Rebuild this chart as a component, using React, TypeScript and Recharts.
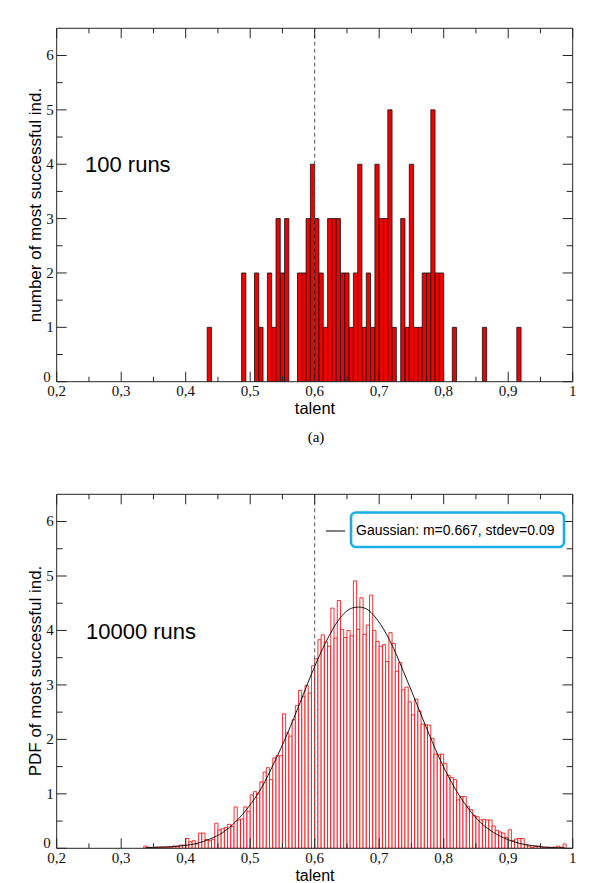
import React from 'react';
import { ComposedChart, Bar, Line, XAxis, YAxis, ReferenceLine } from 'recharts';

// axis ticks: x every 0.05 (labelled every 0.1), y every 0.5 (labelled on integers)
const X_TICKS = [0.2, 0.25, 0.3, 0.35, 0.4, 0.45, 0.5, 0.55, 0.6, 0.65, 0.7, 0.75, 0.8, 0.85, 0.9, 0.95, 1];
const Y_TICKS = [0, 0.5, 1, 1.5, 2, 2.5, 3, 3.5, 4, 4.5, 5, 5.5, 6];

// (a) 100 runs: counts per talent bin, bin width 1/150, first bin = 65/150
const RUNS_BIN_WIDTH = 1 / 150;
const RUNS_FIRST_BIN = 65;
const RUNS_COUNTS = [
  1, 0, 0, 0, 0, 0, 0, 0, 2, 0, 0, 2, 1, 0, 2, 1, 3, 2, 3, 0, 0,
  2, 2, 3, 4, 3, 2, 1, 3, 3, 3, 2, 2, 1, 2, 4, 1, 2, 1, 4, 3, 3, 5, 1, 0, 3, 1, 4, 1, 1, 2, 2, 5, 2, 2,
  0, 0, 1, 0, 0, 0, 0, 0, 0, 1, 0, 0, 0, 0, 0, 0, 0, 1,
];

// (b) 10000 runs: PDF per talent bin, bin width 0.005, first bin starts at 0.335
const PDF_BIN_WIDTH = 0.005;
const PDF_FIRST_EDGE = 0.335;
const PDF_VALUES = [
  0.04, 0.02, 0.0, 0.02, 0.02, 0.02, 0.02, 0.02, 0.02, 0.04,
  0.04, 0.06, 0.06, 0.18, 0.12, 0.14, 0.08, 0.28, 0.28, 0.16,
  0.14, 0.16, 0.46, 0.34, 0.36, 0.38, 0.44, 0.4, 0.76, 0.52,
  0.54, 0.76, 0.68, 0.98, 1.04, 1.0, 1.22, 1.4, 1.48, 1.26,
  1.66, 1.7, 1.7, 2.47, 2.12, 2.06, 2.36, 2.62, 2.9, 2.79,
  2.99, 2.85, 3.35, 3.48, 3.83, 3.92, 3.79, 3.71, 4.41, 3.86,
  4.55, 4.02, 3.87, 4.0, 3.9, 4.91, 4.02, 4.6, 3.93, 4.1,
  4.65, 4.0, 3.8, 3.71, 3.74, 3.43, 3.96, 3.76, 3.25, 3.41,
  2.91, 2.96, 2.69, 2.45, 2.74, 2.52, 2.28, 2.27, 2.26, 2.02,
  1.73, 1.72, 1.73, 1.56, 1.34, 1.3, 1.26, 0.89, 0.95, 0.95,
  0.77, 0.71, 0.6, 0.58, 0.52, 0.53, 0.52, 0.52, 0.41, 0.33,
  0.3, 0.28, 0.2, 0.34, 0.14, 0.17, 0.18, 0.18, 0.06, 0.04,
  0.02, 0.04, 0.04, 0.02, 0.02, 0.02, 0.02, 0.02, 0.04, 0.02,
  0.08,
];

// black gaussian curve, read at bin centres
const GAUSS_X = [
  0.3375, 0.3575, 0.3775, 0.3975, 0.4175, 0.4375, 0.4575, 0.4775, 0.4975, 0.5175, 0.5375,
  0.5575, 0.5775, 0.5975, 0.6175, 0.6375, 0.6575, 0.6675, 0.6775, 0.6975, 0.7175, 0.7375, 0.7575,
  0.7775, 0.7975, 0.8175, 0.8375, 0.8575, 0.8775, 0.8975, 0.9175, 0.9375, 0.9575, 0.9775, 0.9875,
];
const GAUSS_Y = [
  0.01, 0.02, 0.03, 0.05, 0.09, 0.17, 0.29, 0.49, 0.76, 1.11, 1.58,
  2.1, 2.68, 3.27, 3.79, 4.2, 4.41, 4.43, 4.41, 4.19, 3.79, 3.25, 2.67,
  2.09, 1.55, 1.1, 0.74, 0.47, 0.29, 0.17, 0.09, 0.05, 0.02, 0.01, 0.01,
];

const runsData = RUNS_COUNTS.map((v, i) => ({ x: (RUNS_FIRST_BIN + i + 0.5) * RUNS_BIN_WIDTH, v }));

const pdfData: { x: number; v: number; g?: number }[] = PDF_VALUES.map((v, i) => ({
  x: PDF_FIRST_EDGE + (i + 0.5) * PDF_BIN_WIDTH,
  v,
}));
GAUSS_X.forEach((gx, j) => {
  const i = Math.round((gx - PDF_FIRST_EDGE) / PDF_BIN_WIDTH - 0.5);
  if (pdfData[i]) pdfData[i].g = GAUSS_Y[j];
});

const AXIS = '#262626';
const SERIF = '"Liberation Serif", "Times New Roman", serif';
const SANS = '"Liberation Sans", Arial, Helvetica, sans-serif';

const isTenth = (v: number) => Math.abs(v * 10 - Math.round(v * 10)) < 1e-6;
const fmtX = (v: number) => String(v).replace('.', ',');

// ticks point inwards on all four sides, like xmgrace
const BottomTick = (props: any) => {
  const { x, y, payload } = props;
  const major = isTenth(payload.value);
  return (
    <g>
      <line x1={x} x2={x} y1={y} y2={y - (major ? 10 : 5)} stroke={AXIS} strokeWidth={1} />
      {major && (
        <text x={x} y={y + 14.5} textAnchor="middle" fontFamily={SERIF} fontSize={15} fill="#111">
          {fmtX(payload.value)}
        </text>
      )}
    </g>
  );
};

const TopTick = (props: any) => {
  const { x, y, payload } = props;
  const major = isTenth(payload.value);
  return <line x1={x} x2={x} y1={y} y2={y + (major ? 10 : 5)} stroke={AXIS} strokeWidth={1} />;
};

const LeftTick = (props: any) => {
  const { x, y, payload } = props;
  const major = Number.isInteger(payload.value);
  // the "0" sits just above-left of the "0,2" label in the corner
  const zero = payload.value === 0;
  return (
    <g>
      <line x1={x} x2={x + (major ? 10 : 6)} y1={y} y2={y} stroke={AXIS} strokeWidth={1} />
      {major && (
        <text x={zero ? x - 6 : x - 3} y={zero ? y - 5 : y} dy="0.33em" textAnchor="end" fontFamily={SERIF}
          fontSize={15} fill="#111">
          {payload.value}
        </text>
      )}
    </g>
  );
};

const RightTick = (props: any) => {
  const { x, y, payload } = props;
  const major = Number.isInteger(payload.value);
  return <line x1={x} x2={x - (major ? 10 : 6)} y1={y} y2={y} stroke={AXIS} strokeWidth={1} />;
};

// axes are 1px thick so recharts still draws them; their lines sit on the plot edges
const renderAxes = () => [
  <XAxis key="xb" xAxisId={0} type="number" dataKey="x" domain={[0.2, 1]} ticks={X_TICKS} interval={0}
    allowDataOverflow height={1} tickSize={0} tickMargin={0} tickLine={false}
    axisLine={{ stroke: AXIS, strokeWidth: 1 }} tick={<BottomTick />} />,
  <XAxis key="xt" xAxisId="top" orientation="top" type="number" dataKey="x" domain={[0.2, 1]} ticks={X_TICKS}
    interval={0} allowDataOverflow height={1} tickSize={0} tickMargin={0} tickLine={false}
    axisLine={{ stroke: AXIS, strokeWidth: 1 }} tick={<TopTick />} />,
  <YAxis key="yl" yAxisId={0} type="number" domain={[0, 6.5]} ticks={Y_TICKS} interval={0}
    allowDataOverflow width={1} tickSize={0} tickMargin={0} tickLine={false}
    axisLine={{ stroke: AXIS, strokeWidth: 1 }} tick={<LeftTick />} />,
  <YAxis key="yr" yAxisId="right" orientation="right" type="number" domain={[0, 6.5]} ticks={Y_TICKS}
    interval={0} allowDataOverflow width={1} tickSize={0} tickMargin={0} tickLine={false}
    axisLine={{ stroke: AXIS, strokeWidth: 1 }} tick={<RightTick />} />,
];

const CHART_W = 593;
const CHART_H = 420;

export default function App() {
  return (
    <div style={{ position: 'absolute', left: 0, top: 0, width: 593, height: 883, background: '#fff' }}>
      <div style={{ position: 'absolute', left: 0, top: 0 }}>
        <ComposedChart width={CHART_W} height={CHART_H} data={runsData}
          margin={{ top: 27.3, right: 19.3, bottom: CHART_H - 381.7 - 1, left: 55.7 }}>
          {renderAxes()}
          <Bar dataKey="v" barSize={4.25} fill="#f20000" stroke="#111" strokeWidth={0.8} isAnimationActive={false} />
          <ReferenceLine x={0.6} stroke="#555" strokeDasharray="4 3" strokeWidth={1} />
        </ComposedChart>
      </div>

      <div style={{ position: 'absolute', left: 0, top: 466 }}>
        <ComposedChart width={CHART_W} height={CHART_H} data={pdfData}
          margin={{ top: 27.3, right: 19.3, bottom: CHART_H - 382.3 - 1, left: 55.7 }}>
          {renderAxes()}
          <Bar dataKey="v" barSize={3.2} fill="#fff" stroke="#f00000" strokeWidth={0.8} isAnimationActive={false} />
          <Line dataKey="g" type="monotone" connectNulls dot={false} stroke="#000" strokeWidth={0.9}
            isAnimationActive={false} />
          <ReferenceLine x={0.6} stroke="#555" strokeDasharray="4 3" strokeWidth={1} />
        </ComposedChart>
      </div>

      <svg width={593} height={883} style={{ position: 'absolute', left: 0, top: 0, pointerEvents: 'none' }}>
        <text transform="translate(35,205) rotate(-90)" textAnchor="middle" dominantBaseline="central"
          fontFamily={SANS} fontSize={17} fill="#000">number of most successful ind.</text>
        <text x={315} y={408} textAnchor="middle" dominantBaseline="central" fontFamily={SANS} fontSize={16.5}
          fill="#000">talent</text>
        <text x={85} y={164} dominantBaseline="central" fontFamily={SANS} fontSize={22} fill="#000">100 runs</text>
        <text x={316} y={437} textAnchor="middle" dominantBaseline="central" fontFamily={SERIF} fontSize={15}
          fill="#000">(a)</text>

        <text transform="translate(35,671) rotate(-90)" textAnchor="middle" dominantBaseline="central"
          fontFamily={SANS} fontSize={17} fill="#000">PDF of most successful ind.</text>
        <text x={315} y={875} textAnchor="middle" dominantBaseline="central" fontFamily={SANS} fontSize={16}
          fill="#000">talent</text>
        <text x={86} y={631} dominantBaseline="central" fontFamily={SANS} fontSize={22} fill="#000">10000 runs</text>

        <rect x={351} y={512.5} width={213} height={34.5} rx={5} fill="#fff" stroke="#1aaee6" strokeWidth={2.6} />
        <line x1={326} x2={345} y1={531} y2={531} stroke="#000" strokeWidth={1} />
        <text x={356} y={530} dominantBaseline="central" fontFamily={SANS} fontSize={14} fill="#000">
          Gaussian: m=0.667, stdev=0.09
        </text>
      </svg>
    </div>
  );
}
